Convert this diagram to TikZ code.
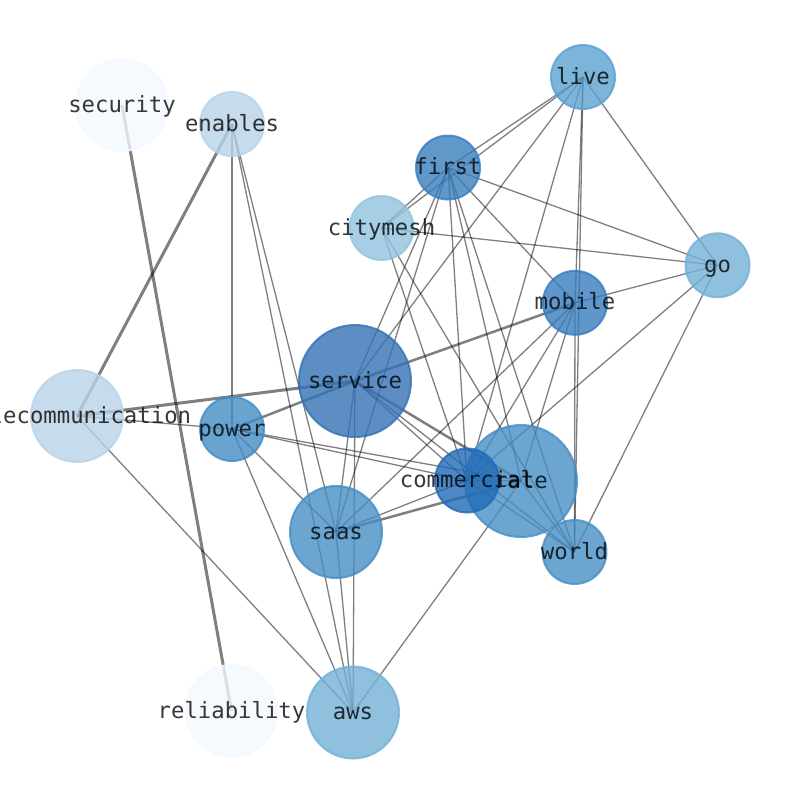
\documentclass[tikz,border=0pt]{standalone}
\usepackage{fontspec}
\setmonofont{DejaVu Sans Mono}
\definecolor{cSec}{RGB}{242,249,255}
\definecolor{cEna}{RGB}{184,210,231}
\definecolor{cLive}{RGB}{92,161,207}
\definecolor{cFirst}{RGB}{56,126,189}
\definecolor{cCity}{RGB}{144,194,221}
\definecolor{cGo}{RGB}{115,176,214}
\definecolor{cMob}{RGB}{55,125,189}
\definecolor{cServ}{RGB}{51,114,181}
\definecolor{cPow}{RGB}{68,140,195}
\definecolor{cCom}{RGB}{32,106,181}
\definecolor{cRate}{RGB}{70,142,196}
\begin{document}
\begin{tikzpicture}[x=1pt,y=-1pt,
  edge/.style={draw=black,draw opacity=0.5,line width=1.3},
  heavy/.style={edge,line width=3},
  mid/.style={edge,line width=2.5},
  nd/.style={circle,inner sep=0,line width=2,fill opacity=0.8,draw opacity=0.8},
  sm/.style={nd,minimum size=64},
  md/.style={nd,minimum size=92},
  lg/.style={nd,minimum size=112},
  lbl/.style={font=\ttfamily\fontsize{22.3}{23}\selectfont,text=black,text opacity=0.78,anchor=base,inner sep=0}]
\useasboundingbox (0,0) rectangle (794,790);
\clip (0,0) rectangle (794,790);
% centres
\coordinate (security) at (122,105);
\coordinate (enables) at (232,124);
\coordinate (live) at (583,77);
\coordinate (first) at (448,167.5);
\coordinate (citymesh) at (381.5,228);
\coordinate (go) at (717.5,265.3);
\coordinate (mobile) at (575,302.8);
\coordinate (service) at (355,381);
\coordinate (telecom) at (77,416);
\coordinate (power) at (232,429);
\coordinate (commercial) at (467,480.5);
\coordinate (rate) at (521,481);
\coordinate (saas) at (336,532);
\coordinate (world) at (574.5,552);
\coordinate (reliability) at (231.5,711);
\coordinate (aws) at (353,712.5);
% edges
\draw[heavy] (security) -- (reliability);
\draw[heavy] (enables) -- (telecom);
\draw[heavy] (telecom) -- (service);
\draw[mid] (service) -- (power);
\draw[mid] (service) -- (mobile);
\draw[mid] (service) -- (rate);
\draw[mid] (saas) -- (rate);
\draw[edge] (enables) -- (power);
\draw[edge] (enables) -- (saas);
\draw[edge] (enables) -- (aws);
\draw[edge] (telecom) -- (power);
\draw[edge] (telecom) -- (aws);
\draw[edge] (power) -- (saas);
\draw[edge] (power) -- (aws);
\draw[edge] (power) -- (rate);
\draw[edge] (power) -- (commercial);
\draw[edge] (service) -- (first);
\draw[edge] (service) -- (live);
\draw[edge] (service) -- (saas);
\draw[edge] (service) -- (aws);
\draw[edge] (service) -- (commercial);
\draw[edge] (service) -- (world);
\draw[edge] (live) -- (first);
\draw[edge] (live) -- (citymesh);
\draw[edge] (live) -- (go);
\draw[edge] (live) -- (mobile);
\draw[edge] (live) -- (world);
\draw[edge] (live) -- (commercial);
\draw[edge] (first) -- (citymesh);
\draw[edge] (first) -- (go);
\draw[edge] (first) -- (mobile);
\draw[edge] (first) -- (saas);
\draw[edge] (first) -- (commercial);
\draw[edge] (first) -- (rate);
\draw[edge] (first) -- (world);
\draw[edge] (citymesh) -- (go);
\draw[edge] (citymesh) -- (commercial);
\draw[edge] (citymesh) -- (world);
\draw[edge] (go) -- (mobile);
\draw[edge] (go) -- (commercial);
\draw[edge] (go) -- (world);
\draw[edge] (mobile) -- (saas);
\draw[edge] (mobile) -- (commercial);
\draw[edge] (mobile) -- (rate);
\draw[edge] (mobile) -- (world);
\draw[edge] (saas) -- (commercial);
\draw[edge] (saas) -- (aws);
\draw[edge] (aws) -- (rate);
\draw[edge] (commercial) -- (rate);
\draw[edge] (commercial) -- (world);
\draw[edge] (rate) -- (world);
% circles
\node[md,fill=cSec,draw=cSec] (n-security) at (security) {};
\node[sm,fill=cEna,draw=cEna] (n-enables) at (enables) {};
\node[sm,fill=cLive,draw=cLive] (n-live) at (live) {};
\node[sm,fill=cFirst,draw=cFirst] (n-first) at (first) {};
\node[sm,fill=cCity,draw=cCity] (n-citymesh) at (citymesh) {};
\node[sm,fill=cGo,draw=cGo] (n-go) at (go) {};
\node[sm,fill=cMob,draw=cMob] (n-mobile) at (mobile) {};
\node[lg,fill=cServ,draw=cServ] (n-service) at (service) {};
\node[md,fill=cEna,draw=cEna] (n-telecom) at (telecom) {};
\node[sm,fill=cPow,draw=cPow] (n-power) at (power) {};
\node[lg,fill=cRate,draw=cRate] (n-rate) at (rate) {};
\node[sm,fill=cCom,draw=cCom] (n-commercial) at (commercial) {};
\node[md,fill=cRate,draw=cRate] (n-saas) at (saas) {};
\node[sm,fill=cRate,draw=cRate] (n-world) at (world) {};
\node[md,fill=cSec,draw=cSec] (n-reliability) at (reliability) {};
\node[md,fill=cGo,draw=cGo] (n-aws) at (aws) {};
% labels
\node[lbl] (l-security) at ([yshift=-7pt]security) {security};
\node[lbl] (l-enables) at ([yshift=-7pt]enables) {enables};
\node[lbl] (l-live) at ([yshift=-7pt]live) {live};
\node[lbl] (l-first) at ([yshift=-7pt]first) {first};
\node[lbl] (l-citymesh) at ([yshift=-7pt]citymesh) {citymesh};
\node[lbl] (l-go) at ([yshift=-7pt]go) {go};
\node[lbl] (l-mobile) at ([yshift=-7pt]mobile) {mobile};
\node[lbl] (l-service) at ([yshift=-7pt]service) {service};
\node[lbl] (l-telecom) at ([yshift=-7pt]telecom) {telecommunication};
\node[lbl] (l-power) at ([yshift=-7pt]power) {power};
\node[lbl] (l-rate) at ([yshift=-7pt]rate) {rate};
\node[lbl] (l-commercial) at ([yshift=-7pt]commercial) {commercial};
\node[lbl] (l-saas) at ([yshift=-7pt]saas) {saas};
\node[lbl] (l-world) at ([yshift=-7pt]world) {world};
\node[lbl] (l-reliability) at ([yshift=-7pt]reliability) {reliability};
\node[lbl] (l-aws) at ([yshift=-7pt]aws) {aws};
\end{tikzpicture}
\end{document}
